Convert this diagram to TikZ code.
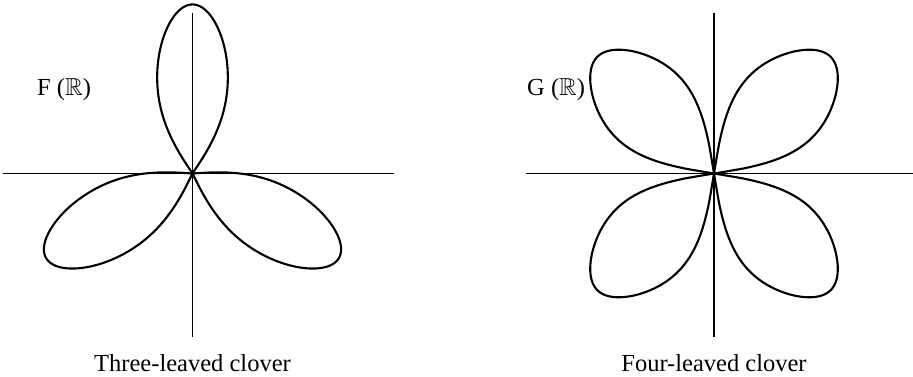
\documentclass[tikz,border=0pt]{standalone}
\usepackage{amsmath}
\usepackage{amssymb}
\usepackage{fontspec}
\setmainfont{Liberation Serif}
\usetikzlibrary{positioning}

\begin{document}
\begin{tikzpicture}[
    x=1pt,
    y=1pt,
    node distance=17pt,
    axis/.style={line width=1.6pt},
    leaf/.style={line width=2.1pt, line join=round},
    label/.style={font=\fontsize{24.5}{29}\selectfont, inner sep=0pt}
]

\useasboundingbox (0,0) rectangle (913,377);

\coordinate (o3) at (192.5,203.5);
\coordinate (w3) at (3,203.5);
\coordinate (e3) at (394,203.5);
\coordinate (n3) at (192.5,364);
\coordinate (s3) at (192.5,40);

\coordinate (o4) at (714,203.5);
\coordinate (w4) at (525.5,203.5);
\coordinate (e4) at (913,203.5);
\coordinate (n4) at (714,364);
\coordinate (s4) at (714,40);

\draw[axis] (w3) -- (e3);
\draw[axis] (n3) -- (s3);
\draw[axis] (w4) -- (e4);
\draw[axis] (n4) -- (s4);

\foreach \a in {90,210,330}
    \draw[leaf, shift={(o3)}, rotate=\a]
        plot[domain=-34:34, samples=121, smooth]
        (\x:{169*(1.333-0.032*sqrt(\x*\x+108))*sqrt(max(0,1-(abs(\x)/34)^12))});

\foreach \a in {45,135,225,315}
    \draw[leaf, shift={(o4)}, rotate=\a]
        plot[domain=-36:36, samples=121, smooth]
        (\x:{165*(1.18-0.02*sqrt(\x*\x+81))*sqrt(max(0,1-(abs(\x)/36)^8))});

\node[label, anchor=base west] (fr) at (37,281) {F ($\mathbb{R}$)};
\node[label, anchor=base west] (gr) at (527,281) {G ($\mathbb{R}$)};

\node[label, below=of s3] (three) {Three-leaved clover};
\node[label, below=of s4] (four) {Four-leaved clover};

\end{tikzpicture}
\end{document}
